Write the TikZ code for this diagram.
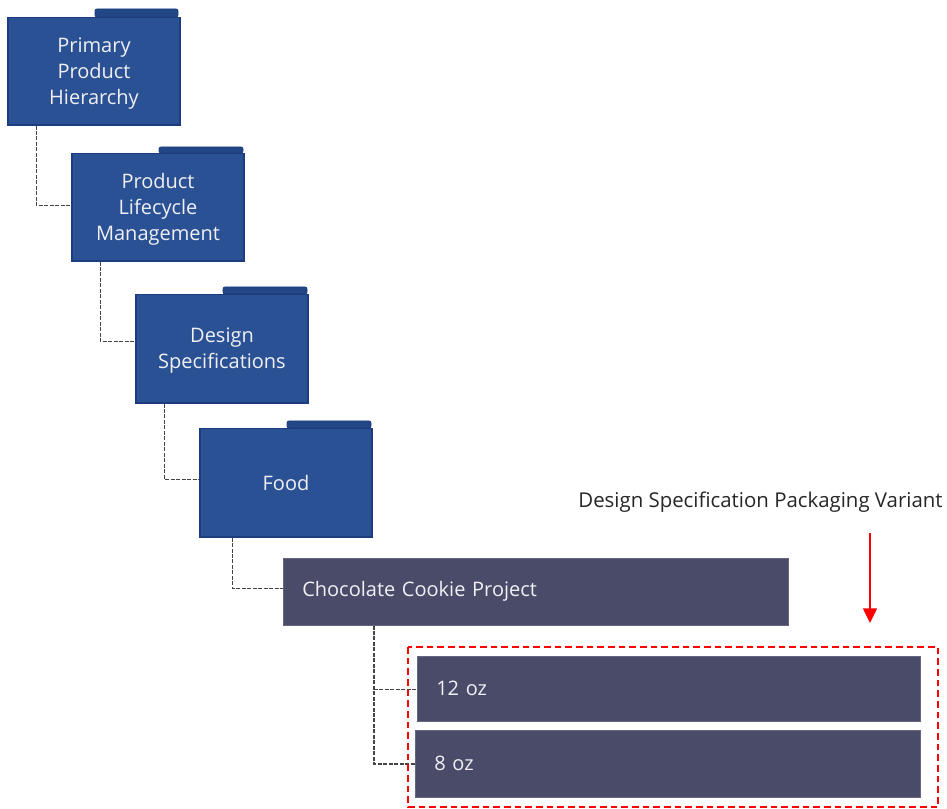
\documentclass[tikz,border=0pt]{standalone}
\usepackage{fontspec}
\setmainfont{Open Sans}
\usetikzlibrary{calc,arrows.meta}
\definecolor{folderfill}{HTML}{2B5195}
\definecolor{folderline}{HTML}{1C3C7E}
\definecolor{tabfill}{HTML}{234686}
\definecolor{slatefill}{HTML}{4A4B69}
\definecolor{linkgray}{HTML}{444444}
\definecolor{softwhite}{HTML}{F0F0F4}
\newcommand{\firstline}{\rule{0pt}{14pt}}
\tikzset{
  x=0.75pt,y=-0.75pt,
  folderbody/.style={draw=folderline,line width=0.9pt,fill=folderfill,text=softwhite,minimum width=129pt,align=center,inner sep=0pt,font=\fontsize{15pt}{19.5pt}\selectfont},
  foldertab/.style={draw=folderline,line width=0.6pt,fill=tabfill,rounded corners=1.5pt},
  slatebox/.style={fill=slatefill,draw=slatefill!85!white,line width=0.4pt,text=softwhite,anchor=north west,inner ysep=0pt,inner xsep=14.25pt,align=left,font=\fontsize{15pt}{19.5pt}\selectfont},
  linkline/.style={draw=linkgray,line width=1.1pt,dash pattern=on 3pt off 1.1pt},
  redbox/.style={draw=red,line width=1pt,dash pattern=on 5pt off 3pt},
  redarrow/.style={draw=red,line width=1.1pt,-{Triangle[length=11pt,width=10.5pt]}}
}
\begin{document}
\begin{tikzpicture}
\useasboundingbox (0,0) rectangle (947,809);
% folder tabs
\draw[foldertab] (95,17) -- (95,9) -- (178,9) -- (178,17) -- cycle;
\draw[foldertab] (159,153) -- (159,147) -- (243,147) -- (243,153) -- cycle;
\draw[foldertab] (223,294) -- (223,287) -- (307,287) -- (307,294) -- cycle;
\draw[foldertab] (287,428) -- (287,421) -- (371,421) -- (371,428) -- cycle;
% folders
\node[folderbody,minimum height=80.5pt] (f1) at (94,71.3) {\firstline Primary\\Product\\Hierarchy};
\node[folderbody,minimum height=80.5pt] (f2) at (158,207.3) {\firstline Product\\Lifecycle\\Management};
\node[folderbody,minimum height=81.25pt] (f3) at (222,348.8) {\firstline Design\\Specifications};
\node[folderbody,minimum height=81.25pt] (f4) at (286,482.8) {Food};
% slate boxes
\node[slatebox,minimum height=50.25pt,text width=350.25pt] (p) at (283,558) {Chocolate Cookie Project};
\node[slatebox,minimum height=48.75pt,text width=348.75pt] (a) at (417,656) {12 oz};
\node[slatebox,minimum height=50.25pt,text width=350.25pt] (b) at (415,730) {8 oz};
% connectors
\draw[linkline] ($(f1.south west)+(29,0)$) |- ($(f2.west)+(0,-2)$);
\draw[linkline] ($(f2.south west)+(29,0)$) |- ($(f3.west)+(0,-7.5)$);
\draw[linkline] ($(f3.south west)+(29,0)$) |- ($(f4.west)+(0,-3.5)$);
\draw[linkline] ($(f4.south west)+(33,0)$) |- ($(p.west)+(0,-3.5)$);
\coordinate (j) at ($(p.south west)+(91,64)$);
\draw[linkline] ($(p.south west)+(91,0)$) |- (b.west);
\draw[linkline] (j) -- (j -| a.west);
% callout
\coordinate (rb1) at (408,647);
\coordinate (rb2) at (938,807);
\draw[redbox] (rb1) rectangle (rb2);
\node[inner sep=0pt,text=black!85,font=\fontsize{15.3pt}{17pt}\selectfont] (lab) at (760.5,502) {Design Specification Packaging Variant};
\coordinate (as) at (870,533);
\coordinate (ae) at (870,623);
\draw[redarrow] (as) -- (ae);
\end{tikzpicture}
\end{document}
